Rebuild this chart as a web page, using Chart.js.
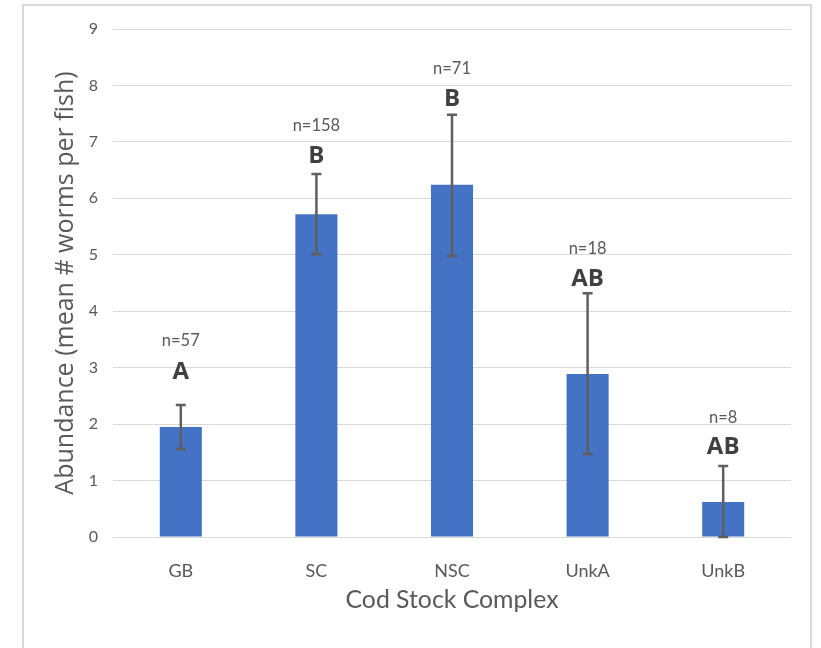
<!DOCTYPE html>
<html>
<head>
<meta charset="utf-8">
<script src="https://cdn.jsdelivr.net/npm/chart.js@4/dist/chart.umd.min.js"></script>
<style>
  html, body { margin: 0; padding: 0; background: #ffffff; }
  #wrap { position: absolute; left: 0; top: 0; width: 821px; height: 648px; }
  #frame { position: absolute; left: 22px; top: 4px; width: 790px; height: 660px; border: 2px solid #d9d9d9; box-sizing: border-box; }
  canvas { position: absolute; left: 0; top: 0; }
</style>
</head>
<body>
<div id="wrap">
  <div id="frame"></div>
  <canvas id="c" width="821" height="648"></canvas>
</div>
<script>
// ---- data ----
const categories = ["GB", "SC", "NSC", "UnkA", "UnkB"];
const meanAbundance = [1.95, 5.72, 6.24, 2.89, 0.62];
const errLower = [1.56, 5.01, 4.98, 1.47, 0.0];
const errUpper = [2.34, 6.43, 7.48, 4.32, 1.26];
const sampleLabels = ["n=57", "n=158", "n=71", "n=18", "n=8"];
const groupLetters = ["A", "B", "B", "AB", "AB"];
const sampleLabelY = [3.47, 7.28, 8.29, 5.10, 2.11];
const letterY = [2.92, 6.75, 7.76, 4.57, 1.59];
const yTicks = [0, 1, 2, 3, 4, 5, 6, 7, 8, 9];

const annotatePlugin = {
  id: 'annotate',
  afterDatasetsDraw(chart) {
    const ctx = chart.ctx;
    const xs = chart.scales.x, ys = chart.scales.y;
    ctx.save();
    // error bars
    ctx.strokeStyle = '#5f5f5f';
    ctx.lineWidth = 2.5;
    for (let i = 0; i < categories.length; i++) {
      const x = xs.getPixelForValue(i);
      const yl = ys.getPixelForValue(errLower[i]);
      const yu = ys.getPixelForValue(errUpper[i]);
      ctx.beginPath();
      ctx.moveTo(x, yl); ctx.lineTo(x, yu);
      ctx.moveTo(x - 5, yl); ctx.lineTo(x + 5, yl);
      ctx.moveTo(x - 5, yu); ctx.lineTo(x + 5, yu);
      ctx.stroke();
    }
    // labels
    ctx.textAlign = 'center';
    ctx.textBaseline = 'middle';
    for (let i = 0; i < categories.length; i++) {
      const x = xs.getPixelForValue(i);
      ctx.fillStyle = '#595959';
      ctx.font = '16.5px Lato, "Open Sans", sans-serif';
      ctx.fillText(sampleLabels[i], x, ys.getPixelForValue(sampleLabelY[i]));
      ctx.fillStyle = '#404040';
      ctx.font = 'bold 24px "Open Sans", sans-serif';
      ctx.fillText(groupLetters[i], x, ys.getPixelForValue(letterY[i]));
    }
    ctx.restore();
  }
};

new Chart(document.getElementById('c'), {
  type: 'bar',
  data: {
    labels: categories,
    datasets: [{
      data: meanAbundance,
      backgroundColor: '#4472c4',
      borderWidth: 0,
      barPercentage: 0.31,
      categoryPercentage: 1.0
    }]
  },
  options: {
    responsive: false,
    animation: false,
    devicePixelRatio: 1,
    layout: { padding: { left: 0, top: 29, right: 30, bottom: 0 } },
    plugins: { legend: { display: false }, tooltip: { enabled: false } },
    scales: {
      x: {
        grid: { display: false, drawTicks: false },
        border: { display: false },
        ticks: { color: '#595959', font: { family: 'Lato, "Open Sans", sans-serif', size: 18 }, padding: 23 },
        title: { display: true, text: 'Cod Stock Complex', color: '#595959',
                 font: { family: 'Lato, "Open Sans", sans-serif', size: 24.8 }, padding: { top: 0, bottom: 33 } },
        afterFit(s) { s.height = 111; }
      },
      y: {
        min: 0, max: 9,
        afterBuildTicks(s) { s.ticks = yTicks.map(v => ({ value: v })); },
        grid: { color: '#d9d9d9', lineWidth: 1, drawTicks: false },
        border: { display: false },
        ticks: { color: '#595959', font: { family: 'Lato, "Open Sans", sans-serif', size: 16 }, padding: 15 },
        title: { display: true, text: 'Abundance (mean # worms per fish)', color: '#595959',
                 font: { family: '"Open Sans", sans-serif', size: 25 }, padding: { top: 51, bottom: 0 } },
        afterFit(s) { s.width = 113; }
      }
    }
  },
  plugins: [annotatePlugin]
});
</script>
</body>
</html>
